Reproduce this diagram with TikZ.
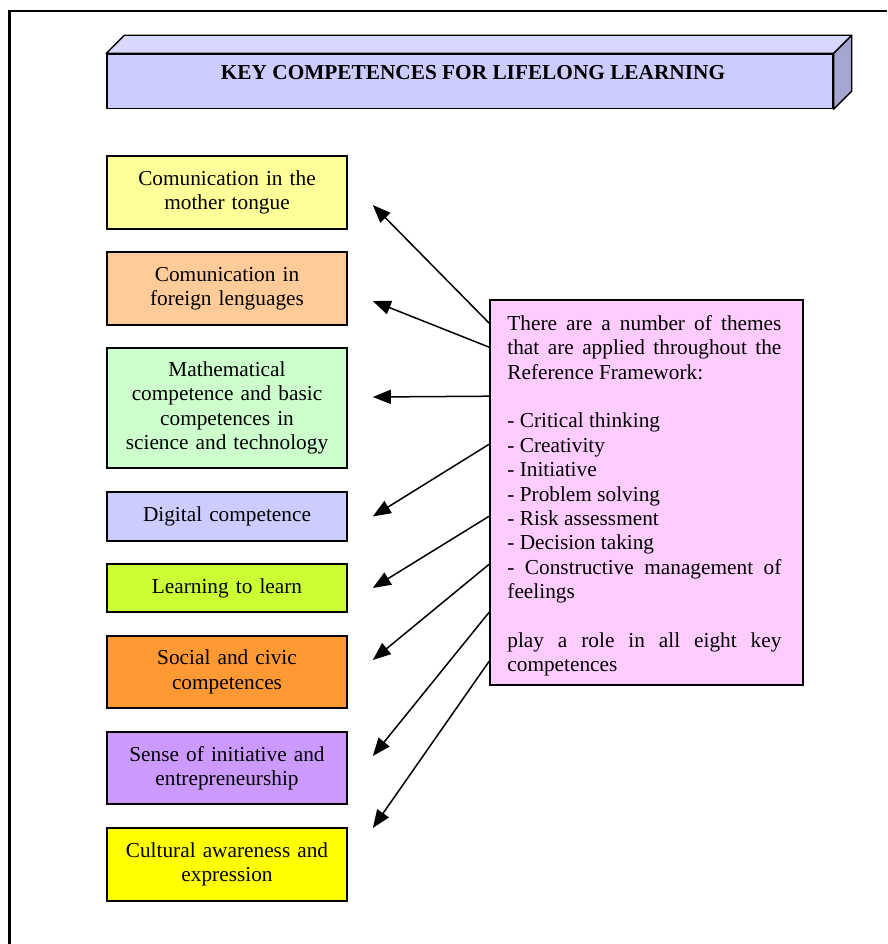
\documentclass[tikz,border=0pt]{standalone}
\usepackage{fontspec}
\setmainfont{Liberation Serif}
\usetikzlibrary{arrows.meta}
\definecolor{cA}{HTML}{FFFF99}
\definecolor{cB}{HTML}{FFCC99}
\definecolor{cC}{HTML}{CCFFCC}
\definecolor{cD}{HTML}{CCCCFF}
\definecolor{cE}{HTML}{CCFF33}
\definecolor{cF}{HTML}{FF9933}
\definecolor{cG}{HTML}{CC99FF}
\definecolor{cH}{HTML}{FFFF00}
\definecolor{pinkc}{HTML}{FFCCFF}
\definecolor{bfront}{HTML}{CCCCFF}
\definecolor{btop}{HTML}{D8D8FF}
\definecolor{bside}{HTML}{A6A6D2}
\newcommand\bodyfont{\fontsize{21.3}{24.4}\selectfont}
\begin{document}
\begin{tikzpicture}[x=1pt,y=-1pt,
  compbox/.style={draw=black, line width=1.6pt, minimum width=240pt, text width=234pt,
    align=center, font=\bodyfont, inner sep=3pt},
  arr/.style={line width=1.5pt, -{Triangle[length=18pt,width=14pt]}},
  facestyle/.style={draw=black, line width=1.4pt, line join=round}
]
\useasboundingbox (0,0) rectangle (887,944);
% outer frame
\draw[line width=2.6pt] (887,11) -- (9.3,11) -- (9.3,944);
% banner
\node[facestyle, fill=bfront, minimum width=726pt, minimum height=54.5pt, inner sep=0pt] (banner) at (470,81.25) {};
\filldraw[facestyle, fill=btop] (banner.north west) -- ++(18,-18) -- ([shift={(18,-18)}]banner.north east) -- (banner.north east) -- cycle;
\filldraw[facestyle, fill=bside] (banner.north east) -- ++(18,-18) -- ([shift={(18,-18)}]banner.south east) -- (banner.south east) -- cycle;
\node[font=\bodyfont\bfseries, anchor=base, inner sep=0pt] (title) at ([xshift=3pt,yshift=-26pt]banner.north) {KEY COMPETENCES FOR LIFELONG LEARNING};
% competence boxes
\node[compbox, fill=cA, minimum height=73pt] (b1) at (227,192.5) {Comunication in the\\mother tongue};
\node[compbox, fill=cB, minimum height=73pt] (b2) at (227,288.5) {Comunication in\\foreign lenguages};
\node[compbox, fill=cC, minimum height=120pt] (b3) at (227,408) {Mathematical\\competence and basic\\competences in\\science and technology};
\node[compbox, fill=cD, minimum height=49pt] (b4) at (227,516.5) {Digital competence};
\node[compbox, fill=cE, minimum height=48pt] (b5) at (227,588) {Learning to learn};
\node[compbox, fill=cF, minimum height=72pt] (b6) at (227,672) {Social and civic\\competences};
\node[compbox, fill=cG, minimum height=72pt] (b7) at (227,768) {Sense of initiative and\\entrepreneurship};
\node[compbox, fill=cH, minimum height=73pt] (b8) at (227,864.5) {Cultural awareness and\\expression};
% themes box
\node[draw=black, line width=1.6pt, fill=pinkc, minimum width=313pt, minimum height=385pt, inner sep=0pt] (themes) at (646.5,492.5) {};
\begin{scope}
\clip ([xshift=1pt,yshift=-1pt]themes.north west) rectangle ([xshift=-1pt,yshift=10.5pt]themes.south east);
\node[anchor=base west, inner sep=0pt, font=\bodyfont] (themetext) at ([xshift=18pt,yshift=-31pt]themes.north west)
{\begin{minipage}[t]{274pt}\hyphenpenalty=10000\exhyphenpenalty=10000
There are a number of themes\linebreak that are applied throughout the\linebreak Reference Framework:\par
\mbox{}\par
- Critical thinking\par
- Creativity\par
- Initiative\par
- Problem solving\par
- Risk assessment\par
- Decision taking\par
- Constructive management of\linebreak feelings\par
\mbox{}\par
play a role in all eight key\linebreak competences
\end{minipage}};
\end{scope}
% arrows
\draw[arr] ([yshift=-24pt]themes.north west) -- ([xshift=25pt,yshift=-12.5pt]b1.east);
\draw[arr] ([yshift=-48pt]themes.north west) -- ([xshift=25pt,yshift=-12.5pt]b2.east);
\draw[arr] ([yshift=-97pt]themes.north west) -- ([xshift=25pt,yshift=11pt]b3.east);
\draw[arr] ([yshift=-145pt]themes.north west) -- ([xshift=25pt]b4.east);
\draw[arr] ([yshift=-217pt]themes.north west) -- ([xshift=25pt]b5.east);
\draw[arr] ([yshift=-265pt]themes.north west) -- ([xshift=25pt,yshift=12pt]b6.east);
\draw[arr] ([yshift=-313pt]themes.north west) -- ([xshift=25pt,yshift=12pt]b7.east);
\draw[arr] ([yshift=-362pt]themes.north west) -- ([xshift=25pt,yshift=36.5pt]b8.east);
\end{tikzpicture}
\end{document}
